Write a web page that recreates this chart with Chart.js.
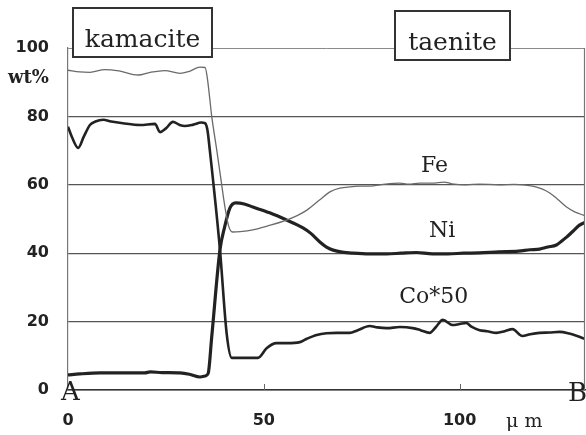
<!DOCTYPE html>
<html><head><meta charset="utf-8">
<script src="https://cdn.jsdelivr.net/npm/chart.js@4/dist/chart.umd.min.js"></script>
<style>html,body{margin:0;padding:0;background:#fff}#wrap{width:586px;height:435px}</style>
</head><body><div id="wrap"><canvas id="c" width="586" height="435"></canvas></div>
<script>
// ---- data (distance in µm, wt%) ----
const feX = [0,3,5.6,9.4,13,17.9,21,24.7,28.6,31,33.7,35,35.6,36.7,38,39,40,41,42,44,47.2,51,55.8,58.5,61,64.3,67,69.4,72,74.5,78,81,84.7,87,89.8,93,96,98,101.7,105,110,114,118.6,121,123,125,127.3,129.5,131.4,132];
const feY = [93.5,93.0,92.9,93.7,93.3,92.1,92.9,93.4,92.6,93.2,94.4,94.3,91,80,70,62,54,48,46.2,46.3,46.8,48,49.7,51,52.6,55.6,58,59,59.4,59.6,59.7,60.2,60.5,60.2,60.5,60.5,60.8,60.3,60,60.2,60,60.1,59.6,58.8,57.6,55.8,53.5,52,51.2,51];

const niX = [0,3,8.2,14,19.6,21,24,28.6,31,33.7,35,35.8,36.7,38.8,40,41.3,42.8,45,47.2,51.5,55.8,60,62,64.3,66,67.7,70,72.8,77,81.4,85,89,93,97,101,105,110,115,118,120.4,122.5,124.7,126,127.3,129,130.6,132];
const niY = [4.4,4.7,5,5,5,5.3,5.1,5,4.6,3.8,4.1,4.9,15.6,41,47.7,53.1,54.7,54.4,53.5,51.8,49.7,47.4,45.8,43.3,41.8,40.9,40.3,40,39.8,39.8,40,40.2,39.8,39.8,40,40.1,40.4,40.6,41,41.2,41.8,42.4,43.5,44.7,46.5,48.2,49];

const coX = [0,1,2.6,4,5.6,7,9,11,14,18.4,22.2,23.5,25,26.8,28.5,29.8,32,34,35,35.6,36.2,38.8,40.5,41.8,45,48.5,50.7,53.2,55.9,59.2,61,63.5,66,68.6,71.9,74,77,79,81.4,84.7,88,90,92.3,94,95.7,98.2,100,101.7,103,105.1,107,109.4,111.5,113.5,116,118,120.4,123,125.5,128,130,132];
const coY = [77,74,70.8,74,77.5,78.5,79,78.5,78,77.5,77.8,75.4,76.5,78.4,77.5,77.2,77.6,78.2,78,76,70.2,41,16.6,9.4,9.4,9.4,12.2,13.7,13.7,14,15,16.1,16.6,16.7,16.7,17.5,18.7,18.3,18.1,18.4,18.1,17.5,16.7,18.5,20.5,19,19.3,19.6,18.5,17.5,17.2,16.7,17.2,17.8,15.8,16.3,16.7,16.8,17,16.5,15.8,14.9];

const xTicks = [0,50,100];
const yTicks = [0,20,40,60,80,100];
const seriesNames = ['Fe','Ni','Co*50'];
const phaseNames = ['kamacite','taenite'];

const pts = (xs, ys) => xs.map((x,i)=>({x, y: ys[i]}));

const decor = {
  id: 'decor',
  afterDatasetsDraw(chart) {
    const {ctx, chartArea: a, scales: {x, y}} = chart;
    ctx.save();
    // right border
    ctx.strokeStyle = '#777'; ctx.lineWidth = 1.2;
    ctx.beginPath(); ctx.moveTo(a.right - 0.5, a.top); ctx.lineTo(a.right - 0.5, a.bottom); ctx.stroke();
    // inner tick marks
    ctx.strokeStyle = '#666'; ctx.lineWidth = 1;
    xTicks.forEach(v => { if (v === 0) return; const px = Math.round(x.getPixelForValue(v)) + 0.5;
      ctx.beginPath(); ctx.moveTo(px, a.bottom); ctx.lineTo(px, a.bottom - 6); ctx.stroke(); });
    // phase boxes
    const box = (x0, y0, w, h, t) => {
      ctx.fillStyle = '#fff'; ctx.fillRect(x0, y0, w, h);
      ctx.strokeStyle = '#333'; ctx.lineWidth = 2; ctx.strokeRect(x0, y0, w, h);
      ctx.fillStyle = '#222'; ctx.font = '25px "DejaVu Serif"';
      ctx.textAlign = 'center'; ctx.textBaseline = 'alphabetic';
      ctx.fillText(t, x0 + w / 2, y0 + 39);
    };
    box(73, 8, 139, 49, phaseNames[0]);
    box(395, 11, 115, 49, phaseNames[1]);
    // series labels
    ctx.fillStyle = '#222'; ctx.font = '22px "DejaVu Serif"'; ctx.textAlign = 'center';
    ctx.fillText(seriesNames[0], x.getPixelForValue(93.6), y.getPixelForValue(63.7));
    ctx.fillText(seriesNames[1], x.getPixelForValue(95.5), y.getPixelForValue(44.7));
    ctx.fillText(seriesNames[2], x.getPixelForValue(93.4), y.getPixelForValue(25.4));
    // A / B
    ctx.font = '26px "DejaVu Serif"'; ctx.textAlign = 'left';
    ctx.fillText('A', 61, 400);
    ctx.fillText('B', 568, 401);
    // unit labels
    ctx.font = 'bold 18px "DejaVu Serif"'; ctx.textAlign = 'left';
    ctx.fillText('wt%', 8, 83);
    ctx.font = '19px "DejaVu Serif"';
    ctx.fillText('μ m', 506, 427);
    ctx.restore();
  }
};

new Chart(document.getElementById('c'), {
  type: 'line',
  data: {
    datasets: [
      {label: seriesNames[0], data: pts(feX, feY), borderColor: '#6a6a6a', borderWidth: 1.3},
      {label: seriesNames[1], data: pts(niX, niY), borderColor: '#222', borderWidth: 3.2},
      {label: seriesNames[2], data: pts(coX, coY), borderColor: '#222', borderWidth: 2.6}
    ]
  },
  options: {
    responsive: false,
    animation: false,
    devicePixelRatio: 1,
    layout: {padding: {top: 48, right: 1, left: 0, bottom: 0}},
    elements: {point: {radius: 0}, line: {cubicInterpolationMode: 'monotone', fill: false}},
    plugins: {legend: {display: false}, tooltip: {enabled: false}},
    scales: {
      x: {
        type: 'linear', min: 0, max: 132,
        afterBuildTicks: s => { s.ticks = xTicks.map(v => ({value: v})); },
        afterFit: s => { s.height = 45; },
        grid: {display: false, drawTicks: false},
        border: {display: true, color: '#333', width: 1.6},
        ticks: {padding: 21, color: '#222', font: {family: 'DejaVu Sans', weight: 'bold', size: 16}}
      },
      y: {
        type: 'linear', min: 0, max: 100,
        afterBuildTicks: s => { s.ticks = yTicks.map(v => ({value: v})); },
        afterFit: s => { s.width = 68; },
        grid: {drawTicks: false, color: c => c.tick && c.tick.value === 100 ? '#8a8a8a' : '#555', lineWidth: c => c.tick && c.tick.value === 100 ? 1 : 1.3},
        border: {display: true, color: '#777', width: 1.2},
        ticks: {padding: 19, color: '#222', font: {family: 'DejaVu Sans', weight: 'bold', size: 16}}
      }
    }
  },
  plugins: [decor]
});
</script></body></html>
